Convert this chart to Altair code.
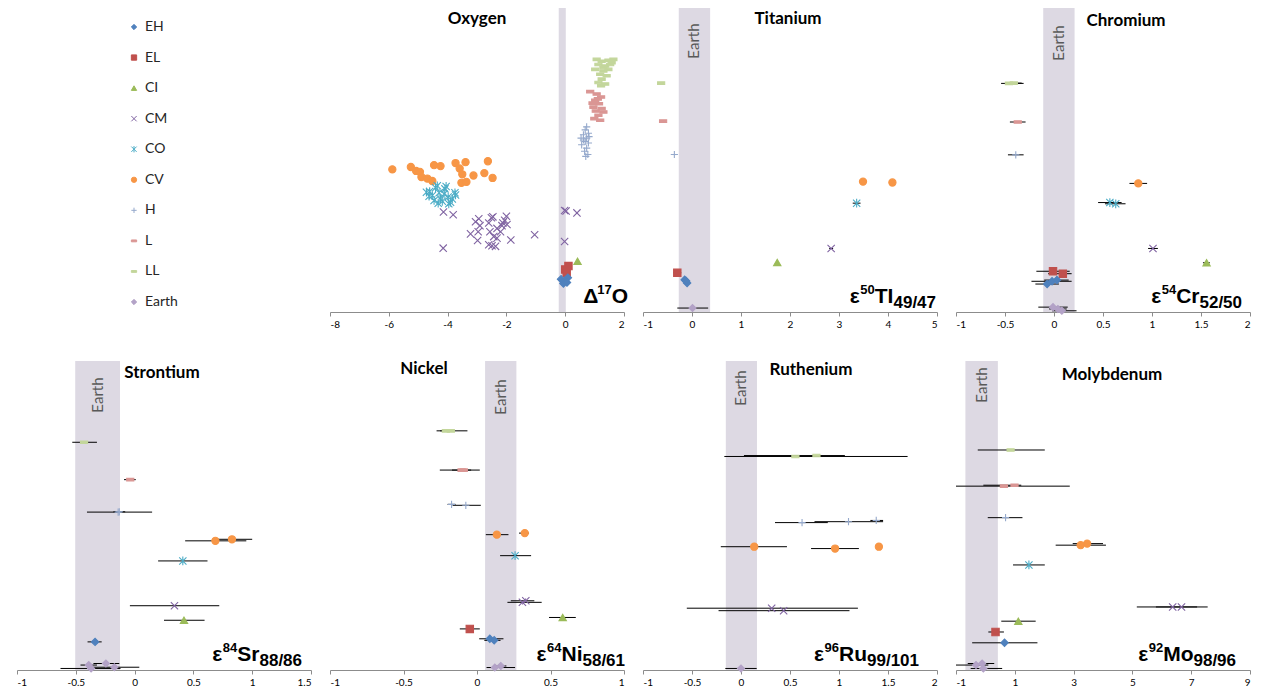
import altair as alt
import pandas as pd

# ---------------- categories & styles ----------------
GROUPS = ["EH", "EL", "CI", "CM", "CO", "CV", "H", "L", "LL", "Earth"]
COLORS = ["#4F81BD", "#C0504D", "#9BBB59", "#8064A2", "#4BACC6", "#F79646",
          "#95A9CC", "#DA9694", "#C3D69B", "#B3A2C7"]
X_PATH = "M-1,-1L1,1M-1,1L1,-1"
AST_PATH = "M-1,-1L1,1M-1,1L1,-1M0,-1.2L0,1.2"
PLUS_PATH = "M-1,0L1,0M0,-1L0,1"
DASH_PATH = "M-1,-0.35L1,-0.35L1,0.35L-1,0.35Z"
SHAPES = ["diamond", "square", "triangle-up", X_PATH, AST_PATH, "circle",
          PLUS_PATH, DASH_PATH, DASH_PATH, "diamond"]
SIZES = [55, 50, 50, 45, 50, 55, 40, 24, 32, 65]
BAND_COLOR = "#DDD9E3"
FONT = "Lato"
LABEL_FONT = "Liberation Sans"

# ---------------- Oxygen (Δ17O) ----------------
O_CV_X = [-5.88, -5.25, -5.07, -4.94, -4.89, -4.69, -4.52, -4.46, -4.24, -3.73, -3.39, -3.59, -3.50, -3.53, -3.36, -3.12, -2.75, -2.63, -2.47]
O_CV_Y = [4.69, 4.77, 4.64, 4.61, 4.44, 4.39, 4.31, 4.83, 4.80, 4.90, 4.93, 4.72, 4.53, 4.25, 4.28, 4.49, 4.57, 4.96, 4.41]
O_CO_X = [-4.72, -4.61, -4.52, -4.41, -4.35, -4.29, -4.24, -4.18, -4.09, -4.05, -3.98, -3.90, -3.84, -3.75, -4.63, -4.46, -4.32, -4.12, -3.96, -3.73]
O_CO_Y = [3.94, 3.96, 3.83, 4.09, 4.15, 3.92, 3.72, 3.64, 4.05, 4.13, 3.78, 3.61, 3.72, 3.92, 3.81, 3.67, 3.58, 3.88, 3.56, 3.85]
O_CM_X = [-4.14, -3.81, -4.15, -3.22, -3.05, -2.94, -2.96, -2.90, -2.98, -2.60, -2.56, -2.51, -2.46, -2.43, -2.49, -2.37,
          -2.32, -2.20, -2.15, -2.12, -2.06, -2.00, -1.98, -1.85, -1.04, -0.02, 0.03, -0.02, 0.40, -2.60, -2.32]
O_CM_Y = [3.29, 3.20, 2.10, 2.57, 2.97, 3.07, 2.64, 2.84, 2.35, 2.93, 2.64, 3.10, 3.13, 2.48, 2.18, 2.16,
          2.75, 2.64, 2.84, 2.93, 3.02, 3.15, 2.88, 2.37, 2.54, 3.34, 3.32, 2.32, 3.26, 2.21, 2.43]
O_CI_X = [0.42]
O_CI_Y = [1.67]
O_EL_X = [0.00, 0.11, 0.05]
O_EL_Y = [1.40, 1.51, 1.29]
O_EH_X = [-0.14, -0.02, 0.09, -0.06, 0.06]
O_EH_Y = [1.08, 1.02, 1.13, 0.94, 0.97]
O_H_X = [0.73, 0.68, 0.79, 0.62, 0.73, 0.68, 0.79, 0.56, 0.73, 0.66, 0.77, 0.70, 0.62, 0.81, 0.54]
O_H_Y = [6.09, 5.99, 5.88, 5.83, 5.72, 5.61, 5.56, 5.50, 5.39, 5.29, 5.18, 5.12, 5.66, 5.77, 5.72]
O_L_X = [0.85, 1.07, 1.22, 1.02, 1.15, 0.96, 1.24, 1.04, 1.13, 1.30, 0.99, 1.19, 1.11, 0.93]
O_L_Y = [7.25, 7.17, 7.07, 6.96, 6.85, 6.74, 6.69, 6.61, 6.47, 6.58, 6.36, 6.31, 7.01, 6.87]
O_LL_X = [1.07, 1.24, 1.47, 1.64, 1.13, 1.36, 1.53, 1.02, 1.30, 1.47, 1.19, 1.41, 1.24, 1.13, 1.36, 1.30, 1.58, 1.22]
O_LL_Y = [8.31, 8.25, 8.28, 8.31, 8.14, 8.09, 8.14, 7.98, 7.93, 7.98, 7.82, 7.77, 7.66, 7.55, 7.50, 8.04, 8.20, 7.44]
O_BAND = [-0.22, 0.02]

# ---------------- Titanium ----------------
TI_G = ["LL", "L", "H", "CV", "CV", "CO", "CM", "CI", "EL", "EH", "EH", "EH", "Earth"]
TI_X = [-0.63, -0.59, -0.36, 3.49, 4.09, 3.36, 2.84, 1.74, -0.30, -0.15, -0.10, -0.12, 0.01]
TI_Y = [7.53, 6.28, 5.18, 4.29, 4.26, 3.58, 2.09, 1.63, 1.29, 1.06, 0.95, 1.02, 0.13]
TI_LO = [-0.68, -0.63, -0.40, None, 4.06, 3.28, 2.80, None, -0.38, None, None, None, -0.30]
TI_HI = [-0.58, -0.55, -0.32, None, 4.12, 3.44, 2.88, None, -0.22, None, None, None, 0.33]
TI_BAND = [-0.27, 0.37]

# ---------------- Chromium ----------------
CR_G = ["LL", "LL", "L", "H", "CV", "CO", "CO", "CM", "CI", "EL", "EL", "EH", "EH", "EH", "Earth", "Earth", "Earth"]
CR_X = [-0.46, -0.41, -0.37, -0.39, 0.86, 0.57, 0.63, 1.01, 1.557, -0.01, 0.09, -0.07, -0.02, 0.03, -0.01, 0.04, 0.08]
CR_Y = [7.52, 7.53, 6.25, 5.17, 4.23, 3.60, 3.56, 2.09, 1.62, 1.34, 1.26, 0.92, 1.01, 1.05, 0.16, 0.10, 0.04]
CR_LO = [-0.54, -0.50, -0.45, -0.47, 0.77, 0.45, 0.52, 0.96, 1.52, -0.18, -0.06, -0.19, -0.23, -0.10, -0.16, -0.05, -0.02]
CR_HI = [-0.31, -0.33, -0.29, -0.31, 0.95, 0.69, 0.73, 1.06, 1.59, 0.16, 0.18, 0.05, 0.18, 0.15, 0.14, 0.13, 0.23]
CR_BAND = [-0.11, 0.21]

# ---------------- Strontium ----------------
SR_G = ["LL", "L", "H", "H", "CV", "CV", "CO", "CM", "CI", "EH", "Earth", "Earth", "Earth", "Earth"]
SR_X = [-0.43, -0.037, -0.14, -0.13, 0.687, 0.828, 0.41, 0.339, 0.42, -0.336, -0.39, -0.37, -0.244, -0.172]
SR_Y = [7.37, 6.16, 5.11, 5.12, 4.18, 4.23, 3.53, 2.08, 1.61, 0.91, 0.16, 0.05, 0.21, 0.09]
SR_LO = [-0.53, -0.09, -0.405, -0.18, 0.43, 0.66, 0.20, -0.04, 0.25, -0.40, -0.46, -0.63, -0.35, -0.40]
SR_HI = [-0.32, 0.01, 0.149, -0.08, 0.95, 1.0, 0.62, 0.72, 0.595, -0.28, -0.32, -0.12, -0.13, 0.04]
SR_BAND = [-0.505, -0.124]

# ---------------- Nickel ----------------
NI_G = ["LL", "LL", "L", "L", "H", "H", "CV", "CV", "CO", "CM", "CM", "CI", "EL", "EH", "EH", "Earth", "Earth"]
NI_X = [-0.212, -0.178, -0.105, -0.09, -0.173, -0.076, 0.135, 0.325, 0.259, 0.309, 0.332, 0.583, -0.049, 0.087, 0.117, 0.121, 0.162]
NI_Y = [7.74, 7.74, 6.47, 6.47, 5.36, 5.33, 4.38, 4.43, 3.70, 2.19, 2.24, 1.70, 1.33, 1.01, 0.96, 0.08, 0.13]
NI_LO = [-0.275, -0.25, -0.253, -0.17, -0.20, -0.166, 0.06, 0.286, 0.157, 0.207, 0.23, 0.49, -0.117, 0.015, 0.05, 0.065, 0.12]
NI_HI = [-0.15, -0.065, 0.019, -0.04, -0.146, 0.026, 0.214, 0.354, 0.368, 0.44, 0.39, 0.672, 0.019, 0.18, 0.16, 0.259, 0.20]
NI_BAND = [0.055, 0.268]

# ---------------- Ruthenium ----------------
RU_G = ["LL", "LL", "H", "H", "H", "CV", "CV", "CV", "CM", "CM", "Earth"]
RU_X = [0.555, 0.77, 0.623, 1.097, 1.38, 0.135, 0.96, 1.407, 0.313, 0.435, 0.0]
RU_Y = [6.91, 6.94, 4.77, 4.80, 4.84, 3.99, 3.93, 3.99, 2.00, 1.92, 0.05]
RU_LO = [-0.17, 0.03, 0.347, 0.75, 1.32, -0.206, 0.715, None, -0.553, -0.229, -0.16]
RU_HI = [1.70, 1.06, 0.886, 1.45, 1.45, 0.469, 1.203, None, 1.193, 1.107, 0.16]
RU_BAND = [-0.155, 0.163]

# ---------------- Molybdenum ----------------
MO_G = ["LL", "L", "L", "H", "CV", "CV", "CO", "CM", "CM", "CI", "EL", "EH", "Earth", "Earth", "Earth"]
MO_X = [0.857, 0.63, 0.99, 0.686, 3.24, 3.46, 1.48, 6.37, 6.67, 1.12, 0.344, 0.65, -0.32, -0.11, -0.07]
MO_Y = [7.12, 5.95, 5.98, 4.93, 4.04, 4.09, 3.40, 2.04, 2.04, 1.58, 1.23, 0.88, 0.16, 0.21, 0.05]
MO_LO = [-0.26, -1.0, -0.07, 0.08, 2.39, 2.97, 0.94, 5.15, 5.8, 0.54, 0.10, -0.45, -1.0, -0.6, -0.5]
MO_HI = [2.02, 2.87, 1.22, 1.26, 4.10, 4.0, 2.02, 7.56, 7.2, 1.71, 0.63, 1.77, 0.1, 0.3, 0.57]
MO_BAND = [-0.68, 0.424]

# ---------------- layout ----------------
W = 294
H_TOP = 304
H_BOT = 309
ROW_GAP = 49
LBL = "datum.value < 0 ? '-' + format(-datum.value, '') : format(datum.value, '')"

# approximate advance widths (em) of the bold label font, used to chain label pieces
CHAR_W = {"/": 0.278, "ε": 0.50, "Δ": 0.67, "S": 0.667, "r": 0.389, "N": 0.722, "i": 0.278,
          "R": 0.722, "u": 0.611, "M": 0.833, "o": 0.611, "T": 0.611, "I": 0.278, "C": 0.722, "O": 0.778}
PIECE_STYLE = {"main": (21, 9), "sup": (13, 18), "sub": (17, 4)}

YENC = alt.Y("y:Q", scale=alt.Scale(domain=[0, 10], nice=False, zero=False), axis=None)


def text_width(s, size):
    return sum(0.556 if c.isdigit() else CHAR_W.get(c, 0.6) for c in s) * size


def xenc(field, dom, ticks):
    return alt.X(f"{field}:Q", scale=alt.Scale(domain=dom, nice=False, zero=False),
                 axis=alt.Axis(values=ticks, title=None, labelExpr=LBL, grid=False))


def frame(g, x, y, lo=None, hi=None):
    lo = lo if lo is not None else [None] * len(x)
    hi = hi if hi is not None else [None] * len(x)
    return pd.DataFrame({"g": g, "x": x, "y": y,
                         "lo": pd.to_numeric(pd.Series(lo, dtype="object")),
                         "hi": pd.to_numeric(pd.Series(hi, dtype="object"))})


def points_enc():
    return dict(
        shape=alt.Shape("g:N", scale=alt.Scale(domain=GROUPS, range=SHAPES), legend=None),
        color=alt.Color("g:N", scale=alt.Scale(domain=GROUPS, range=COLORS), legend=None),
        stroke=alt.Stroke("g:N", scale=alt.Scale(domain=GROUPS, range=COLORS), legend=None),
    )


def panel(df, dom, ticks, band, h, title, tpos, earth_y, pieces, right_end):
    layers = []
    bdf = pd.DataFrame({"b0": [band[0]], "b1": [band[1]], "bc": [(band[0] + band[1]) / 2], "t": ["Earth"]})
    layers.append(alt.Chart(bdf).mark_rect(color=BAND_COLOR).encode(
        x=xenc("b0", dom, ticks), x2="b1:Q", y=alt.value(0), y2=alt.value(h)))
    if earth_y is not None:
        layers.append(alt.Chart(bdf).mark_text(angle=270, font=FONT, fontSize=15, color="#595959",
                                               align="center", baseline="middle").encode(
            x=xenc("bc", dom, ticks), y=alt.value(earth_y), text="t:N"))
    edf = df.dropna(subset=["lo", "hi"])
    if len(edf):
        layers.append(alt.Chart(edf).mark_rule(color="#000000", strokeWidth=1).encode(
            x=xenc("lo", dom, ticks), x2="hi:Q", y=YENC))
    layers.append(alt.Chart(df).mark_point(filled=True, opacity=1, strokeWidth=1.1).encode(
        x=xenc("x", dom, ticks), y=YENC,
        size=alt.Size("g:O", scale=alt.Scale(domain=GROUPS, range=SIZES), legend=None),
        **points_enc()))
    layers.append(alt.Chart(pd.DataFrame({"t": [title]})).mark_text(
        font=FONT, fontSize=17, fontWeight="bold", color="#000000", align="center", baseline="middle").encode(
        text="t:N", x=alt.value(tpos[0]), y=alt.value(tpos[1])))
    total = sum(text_width(t, PIECE_STYLE[k][0]) for t, k in pieces)
    px = right_end - total
    for txt, kind in pieces:
        size, off = PIECE_STYLE[kind]
        layers.append(alt.Chart(pd.DataFrame({"t": [txt]})).mark_text(
            font=LABEL_FONT, fontSize=size, fontWeight="bold", color="#000000", align="left",
            baseline="alphabetic").encode(text="t:N", x=alt.value(px), y=alt.value(h - off)))
        px += text_width(txt, size)
    return alt.layer(*layers).properties(width=W, height=h)


# ---------------- Oxygen frame ----------------
o_g, o_x, o_y = [], [], []
for gname, xs, ys in [("CV", O_CV_X, O_CV_Y), ("CO", O_CO_X, O_CO_Y), ("CM", O_CM_X, O_CM_Y),
                      ("CI", O_CI_X, O_CI_Y), ("EL", O_EL_X, O_EL_Y), ("EH", O_EH_X, O_EH_Y),
                      ("H", O_H_X, O_H_Y), ("L", O_L_X, O_L_Y), ("LL", O_LL_X, O_LL_Y)]:
    o_g += [gname] * len(xs)
    o_x += xs
    o_y += ys
O_DF = frame(o_g, o_x, o_y)

oxygen = panel(O_DF, [-8, 2], [-8, -6, -4, -2, 0, 2], O_BAND, H_TOP, "Oxygen", (147, 11), None,
               [("Δ", "main"), ("17", "sup"), ("O", "main")], 298)
titanium = panel(frame(TI_G, TI_X, TI_Y, TI_LO, TI_HI), [-1, 5], [-1, 0, 1, 2, 3, 4, 5], TI_BAND, H_TOP,
                 "Titanium", (145, 11), 33,
                 [("ε", "main"), ("50", "sup"), ("TI", "main"), ("49/47", "sub")], 293)
chromium = panel(frame(CR_G, CR_X, CR_Y, CR_LO, CR_HI), [-1, 2], [-1, -0.5, 0, 0.5, 1, 1.5, 2], CR_BAND, H_TOP,
                 "Chromium", (170, 13), 35,
                 [("ε", "main"), ("54", "sup"), ("Cr", "main"), ("52/50", "sub")], 286)
strontium = panel(frame(SR_G, SR_X, SR_Y, SR_LO, SR_HI), [-1, 1.5], [-1, -0.5, 0, 0.5, 1, 1.5], SR_BAND, H_BOT,
                  "Strontium", (145, 12), 34,
                  [("ε", "main"), ("84", "sup"), ("Sr", "main"), ("88/86", "sub")], 285)
nickel = panel(frame(NI_G, NI_X, NI_Y, NI_LO, NI_HI), [-1, 1], [-1, -0.5, 0, 0.5, 1], NI_BAND, H_BOT,
               "Nickel", (94, 8), 36,
               [("ε", "main"), ("64", "sup"), ("Ni", "main"), ("58/61", "sub")], 295)
ruthenium = panel(frame(RU_G, RU_X, RU_Y, RU_LO, RU_HI), [-1, 2], [-1, -0.5, 0, 0.5, 1, 1.5, 2], RU_BAND, H_BOT,
                  "Ruthenium", (168, 9), 27,
                  [("ε", "main"), ("96", "sup"), ("Ru", "main"), ("99/101", "sub")], 276)
molybdenum = panel(frame(MO_G, MO_X, MO_Y, MO_LO, MO_HI), [-1, 9], [-1, 1, 3, 5, 7, 9], MO_BAND, H_BOT,
                   "Molybdenum", (156, 14), 24,
                   [("ε", "main"), ("92", "sup"), ("Mo", "main"), ("98/96", "sub")], 280)

# ---------------- legend panel ----------------
LEG_DF = pd.DataFrame({"g": GROUPS})
leg_y = alt.Y("g:N", scale=alt.Scale(type="point", domain=GROUPS, range=[19, 294], padding=0), axis=None)
legend = alt.layer(
    alt.Chart(LEG_DF).mark_point(filled=True, opacity=1, strokeWidth=1, size=28).encode(
        x=alt.value(117), y=leg_y, **points_enc()),
    alt.Chart(LEG_DF).mark_text(font=FONT, fontSize=14, color="#262626", align="left", baseline="middle").encode(
        x=alt.value(128), y=leg_y, text="g:N"),
).properties(width=W, height=H_TOP)

chart = alt.concat(
    legend, oxygen, titanium, chromium, strontium, nickel, ruthenium, molybdenum,
    columns=4, spacing={"row": ROW_GAP, "column": 19}, bounds="flush",
).resolve_scale(x="independent", y="independent").properties(
    padding={"left": 8, "top": 0, "right": 0, "bottom": 0}
).configure_view(stroke=None).configure_axis(
    domainColor="#8C8C8C", tickColor="#8C8C8C", tickSize=4, labelFont=FONT, labelFontSize=10,
    labelColor="#000000", labelPadding=3, domainWidth=1
)

chart.save("out.html", embed_options={"renderer": "svg", "actions": False})
